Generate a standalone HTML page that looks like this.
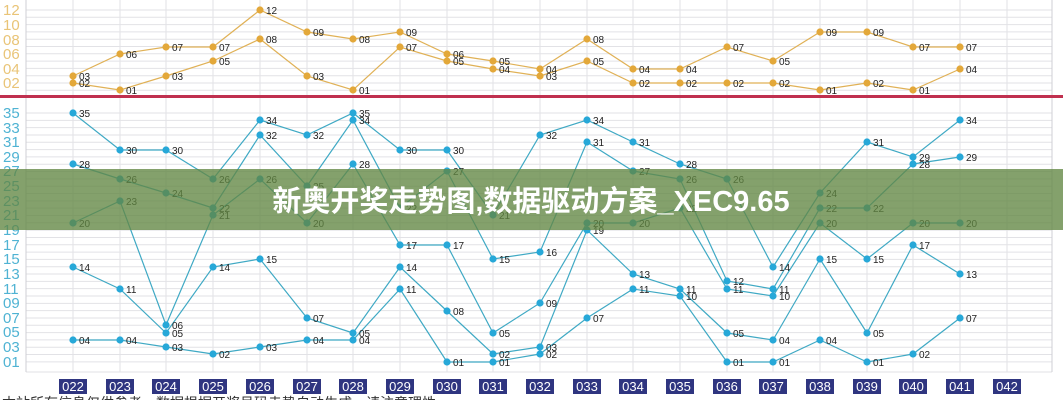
<!DOCTYPE html>
<html><head><meta charset="utf-8"><style>
body{margin:0;width:1063px;height:400px;overflow:hidden;background:#fff}
svg{display:block}
</style></head><body>
<svg width="1063" height="400" xmlns="http://www.w3.org/2000/svg" font-family="Liberation Sans, sans-serif">
<g id="grid" stroke="#e2e2e6" stroke-width="1"></g>
<line x1="26" y1="0" x2="26" y2="372" stroke="#cfcfd4"/>
<line x1="1052" y1="0" x2="1052" y2="372" stroke="#cfcfd4"/>
<rect x="0" y="95" width="1063" height="3" fill="#c0304f"/>
<g font-size="15" fill="#e9c477">
<text x="3" y="15">12</text><text x="3" y="30">10</text><text x="3" y="45">08</text><text x="3" y="59">06</text><text x="3" y="74">04</text><text x="3" y="88">02</text>
</g>
<g font-size="15" fill="#4fb3d3">
<text x="3" y="118">35</text><text x="3" y="133">33</text><text x="3" y="147">31</text><text x="3" y="162">29</text><text x="3" y="176">27</text><text x="3" y="191">25</text><text x="3" y="206">23</text><text x="3" y="220">21</text><text x="3" y="235">19</text><text x="3" y="250">17</text><text x="3" y="264">15</text><text x="3" y="279">13</text><text x="3" y="294">11</text><text x="3" y="308">09</text><text x="3" y="323">07</text><text x="3" y="337">05</text><text x="3" y="352">03</text><text x="3" y="367">01</text>
</g>
<g id="series"></g>
<g font-size="10" fill="#222">
<text x="79" y="80">03</text><text x="126" y="58">06</text><text x="172" y="51">07</text><text x="219" y="51">07</text><text x="266" y="14">12</text><text x="313" y="36">09</text><text x="359" y="43">08</text><text x="406" y="36">09</text><text x="453" y="58">06</text><text x="499" y="65">05</text><text x="546" y="73">04</text><text x="593" y="43">08</text><text x="639" y="73">04</text><text x="686" y="73">04</text><text x="733" y="51">07</text><text x="779" y="65">05</text><text x="826" y="36">09</text><text x="873" y="36">09</text><text x="919" y="51">07</text><text x="966" y="51">07</text>
<text x="79" y="87">02</text><text x="126" y="94">01</text><text x="172" y="80">03</text><text x="219" y="65">05</text><text x="266" y="43">08</text><text x="313" y="80">03</text><text x="359" y="94">01</text><text x="406" y="51">07</text><text x="453" y="65">05</text><text x="499" y="73">04</text><text x="546" y="80">03</text><text x="593" y="65">05</text><text x="639" y="87">02</text><text x="686" y="87">02</text><text x="733" y="87">02</text><text x="779" y="87">02</text><text x="826" y="94">01</text><text x="873" y="87">02</text><text x="919" y="94">01</text><text x="966" y="73">04</text>
<text x="79" y="117">35</text><text x="126" y="154">30</text><text x="172" y="154">30</text><text x="219" y="183">26</text><text x="266" y="124">34</text><text x="313" y="139">32</text><text x="359" y="117">35</text><text x="406" y="154">30</text><text x="453" y="154">30</text><text x="499" y="219">21</text><text x="546" y="139">32</text><text x="593" y="124">34</text><text x="639" y="146">31</text><text x="686" y="168">28</text><text x="733" y="183">26</text><text x="779" y="271">14</text><text x="826" y="197">24</text><text x="873" y="146">31</text><text x="919" y="161">29</text><text x="966" y="124">34</text>
<text x="79" y="168">28</text><text x="126" y="183">26</text><text x="172" y="197">24</text><text x="219" y="212">22</text><text x="266" y="139">32</text><text x="313" y="190">25</text><text x="359" y="124">34</text><text x="406" y="212">22</text><text x="453" y="175">27</text><text x="499" y="263">15</text><text x="546" y="256">16</text><text x="593" y="146">31</text><text x="639" y="175">27</text><text x="686" y="183">26</text><text x="733" y="285">12</text><text x="779" y="293">11</text><text x="826" y="212">22</text><text x="873" y="212">22</text><text x="919" y="168">28</text><text x="966" y="161">29</text>
<text x="79" y="227">20</text><text x="126" y="205">23</text><text x="172" y="329">06</text><text x="219" y="219">21</text><text x="266" y="183">26</text><text x="313" y="227">20</text><text x="359" y="168">28</text><text x="406" y="249">17</text><text x="453" y="249">17</text><text x="499" y="337">05</text><text x="546" y="307">09</text><text x="593" y="227">20</text><text x="639" y="227">20</text><text x="686" y="212">22</text><text x="733" y="293">11</text><text x="779" y="300">10</text><text x="826" y="227">20</text><text x="873" y="263">15</text><text x="919" y="227">20</text><text x="966" y="227">20</text>
<text x="79" y="271">14</text><text x="126" y="293">11</text><text x="172" y="337">05</text><text x="219" y="271">14</text><text x="266" y="263">15</text><text x="313" y="322">07</text><text x="359" y="337">05</text><text x="406" y="271">14</text><text x="453" y="315">08</text><text x="499" y="358">02</text><text x="546" y="351">03</text><text x="593" y="234">19</text><text x="639" y="278">13</text><text x="686" y="293">11</text><text x="733" y="337">05</text><text x="779" y="344">04</text><text x="826" y="263">15</text><text x="873" y="337">05</text><text x="919" y="249">17</text><text x="966" y="278">13</text>
<text x="79" y="344">04</text><text x="126" y="344">04</text><text x="172" y="351">03</text><text x="219" y="358">02</text><text x="266" y="351">03</text><text x="313" y="344">04</text><text x="359" y="344">04</text><text x="406" y="293">11</text><text x="453" y="366">01</text><text x="499" y="366">01</text><text x="546" y="358">02</text><text x="593" y="322">07</text><text x="639" y="293">11</text><text x="686" y="300">10</text><text x="733" y="366">01</text><text x="779" y="366">01</text><text x="826" y="344">04</text><text x="873" y="366">01</text><text x="919" y="358">02</text><text x="966" y="322">07</text>
</g>
<rect x="0" y="169" width="1063" height="61" fill="rgb(98,135,66)" fill-opacity="0.78"/>
<text x="531" y="211" text-anchor="middle" font-family="Liberation Sans, Noto Sans CJK SC, sans-serif" font-size="29" font-weight="bold" fill="#fff">新奥开奖走势图,数据驱动方案_XEC9.65</text>
<g font-size="13" fill="#fff" text-anchor="middle">
<rect x="59" y="379" width="28" height="15" fill="#2f3580"/><text x="73" y="391">022</text>
<rect x="106" y="379" width="28" height="15" fill="#2f3580"/><text x="120" y="391">023</text>
<rect x="152" y="379" width="28" height="15" fill="#2f3580"/><text x="166" y="391">024</text>
<rect x="199" y="379" width="28" height="15" fill="#2f3580"/><text x="213" y="391">025</text>
<rect x="246" y="379" width="28" height="15" fill="#2f3580"/><text x="260" y="391">026</text>
<rect x="293" y="379" width="28" height="15" fill="#2f3580"/><text x="307" y="391">027</text>
<rect x="339" y="379" width="28" height="15" fill="#2f3580"/><text x="353" y="391">028</text>
<rect x="386" y="379" width="28" height="15" fill="#2f3580"/><text x="400" y="391">029</text>
<rect x="433" y="379" width="28" height="15" fill="#2f3580"/><text x="447" y="391">030</text>
<rect x="479" y="379" width="28" height="15" fill="#2f3580"/><text x="493" y="391">031</text>
<rect x="526" y="379" width="28" height="15" fill="#2f3580"/><text x="540" y="391">032</text>
<rect x="573" y="379" width="28" height="15" fill="#2f3580"/><text x="587" y="391">033</text>
<rect x="619" y="379" width="28" height="15" fill="#2f3580"/><text x="633" y="391">034</text>
<rect x="666" y="379" width="28" height="15" fill="#2f3580"/><text x="680" y="391">035</text>
<rect x="713" y="379" width="28" height="15" fill="#2f3580"/><text x="727" y="391">036</text>
<rect x="759" y="379" width="28" height="15" fill="#2f3580"/><text x="773" y="391">037</text>
<rect x="806" y="379" width="28" height="15" fill="#2f3580"/><text x="820" y="391">038</text>
<rect x="853" y="379" width="28" height="15" fill="#2f3580"/><text x="867" y="391">039</text>
<rect x="899" y="379" width="28" height="15" fill="#2f3580"/><text x="913" y="391">040</text>
<rect x="946" y="379" width="28" height="15" fill="#2f3580"/><text x="960" y="391">041</text>
<rect x="993" y="379" width="28" height="15" fill="#2f3580"/><text x="1007" y="391">042</text>
</g>
<text x="2" y="408" font-family="Liberation Sans, Noto Sans CJK SC, sans-serif" font-size="14" fill="#333">本站所有信息仅供参考，数据根据开奖号码走势自动生成，请注意理性</text>
</svg>
<script>
(function(){
var X=[73,120,166,213,260,307,353,400,447,493,540,587,633,680,727,773,820,867,913,960];
var ns="http://www.w3.org/2000/svg";
function el(p,t,a){var e=document.createElementNS(ns,t);for(var k in a)e.setAttribute(k,a[k]);p.appendChild(e);return e;}
var g=document.getElementById('grid');
X.concat([1007]).forEach(function(x){el(g,'line',{x1:x,y1:0,x2:x,y2:372});});
for(var v=1;v<=12;v++){var y=10+(12-v)*7.3;el(g,'line',{x1:26,y1:y,x2:1052,y2:y});}
for(var v=1;v<=35;v++){var y=113+(35-v)*7.32;el(g,'line',{x1:26,y1:y,x2:1052,y2:y});}
el(g,'line',{x1:26,y1:372,x2:1052,y2:372});
var s=document.getElementById('series');
var topS=[[76,54,47,47,10,32,39,32,54,61,69,39,69,69,47,61,32,32,47,47],[83,90,76,61,39,76,90,47,61,69,76,61,83,83,83,83,90,83,90,69]];
var bot=[[113,150,150,179,120,135,113,150,150,215,135,120,142,164,179,267,193,142,157,120],
[164,179,193,208,135,186,120,208,171,259,252,142,171,179,281,289,208,208,164,157],
[223,201,325,215,179,223,164,245,245,333,303,223,223,208,289,296,223,259,223,223],
[267,289,333,267,259,318,333,267,311,354,347,230,274,289,333,340,259,333,245,274],
[340,340,347,354,347,340,340,289,362,362,354,318,289,296,362,362,340,362,354,318]];
function draw(arr,lc,dc){arr.forEach(function(ys){var pts=ys.map(function(y,i){return X[i]+','+y;}).join(' ');
el(s,'polyline',{points:pts,fill:'none',stroke:lc,'stroke-width':1.2});
ys.forEach(function(y,i){el(s,'circle',{cx:X[i],cy:y,r:3.6,fill:dc});});});}
draw(topS,'#e0b156','#e3a83a');
draw(bot,'#3fa9c4','#27a8d8');
})();
</script>
</body></html>
